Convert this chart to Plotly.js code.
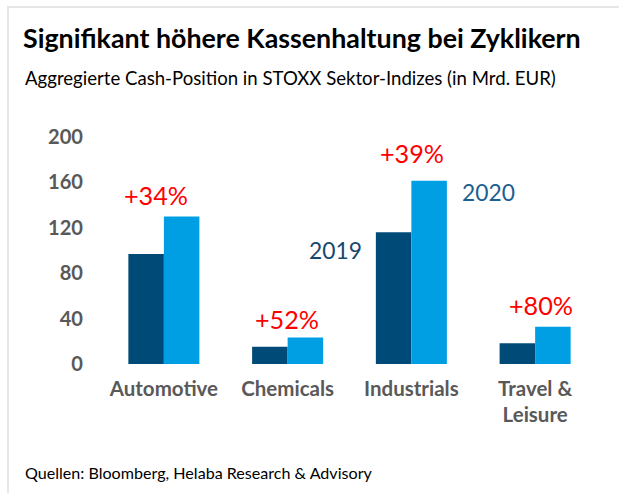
<!DOCTYPE html>
<html>
<head>
<meta charset="utf-8">
<script src="https://cdn.plot.ly/plotly-3.0.1.min.js"></script>
<style>
  html, body { margin: 0; padding: 0; background: #fff; }
  #wrap { position: relative; width: 619px; height: 493px; }
  #chart { width: 619px; height: 493px; }
  .bt { position: absolute; left: 7px; top: 6px; width: 612px; height: 2px; background: #e6e6e6; }
  .bl { position: absolute; left: 7px; top: 6px; width: 2px; height: 487px; background: #e6e6e6; }
</style>
</head>
<body>
<div id="wrap">
  <div id="chart"></div>
  <div class="bt"></div>
  <div class="bl"></div>
</div>
<script>
// ---- data ----
const categories = ["Automotive", "Chemicals", "Industrials", "Travel &<br>Leisure"];
const values2019 = [97, 15.3, 116, 18.2];
const values2020 = [130, 23.4, 161.5, 32.8];
const changeLabels = ["+34%", "+52%", "+39%", "+80%"];
const seriesNames = ["2019", "2020"];
const yTicks = [0, 40, 80, 120, 160, 200];
const titleText = "Signifikant höhere Kassenhaltung bei Zyklikern";
const subtitleText = "Aggregierte Cash-Position in STOXX Sektor-Indizes (in Mrd. EUR)";
const sourceText = "Quellen: Bloomberg, Helaba Research & Advisory";

// ---- styling ----
const FAMILY = 'Lato';
const FONT = 'Lato, "Open Sans", sans-serif';
const C2019 = '#004a78';
const C2020 = '#009fe3';
const GREY = '#595959';

// font size that makes a text take a given pixel width
const cv = document.createElement('canvas').getContext('2d');
function fit(text, bold, width) {
  cv.font = (bold ? 'bold ' : '') + '100px ' + FAMILY;
  const w = cv.measureText(text).width;
  return Math.round(100 * width / w * 10) / 10;
}
const sTitle = fit(titleText, true, 558);
const sSub = fit(subtitleText, false, 530);
const sSrc = fit(sourceText, false, 348);
const sCat = fit("Automotive", true, 108);
const sY = fit("200", true, 35);
const sPct = fit("+34%", false, 64);
const sSer = fit("2019", false, 53);

// offsets for the change labels (pixels)
const pctShiftX = [-8, -1, 1, 6];
const pctShiftY = [21, 18, 28, 22];

const traces = [
  { type: 'bar', x: categories, y: values2019, name: seriesNames[0],
    marker: { color: C2019 }, hoverinfo: 'skip' },
  { type: 'bar', x: categories, y: values2020, name: seriesNames[1],
    marker: { color: C2020 }, hoverinfo: 'skip' }
];

const annotations = [];
categories.forEach((c, i) => {
  annotations.push({
    x: c, y: values2020[i], xref: 'x', yref: 'y',
    text: changeLabels[i], showarrow: false,
    xanchor: 'center', yanchor: 'middle',
    xshift: pctShiftX[i], yshift: pctShiftY[i],
    font: { family: FONT, size: sPct, color: '#ff0000' }
  });
});
annotations.push({
  x: categories[2], y: values2019[2], xref: 'x', yref: 'y',
  text: seriesNames[0], showarrow: false,
  xanchor: 'right', yanchor: 'middle', xshift: -47, yshift: -18,
  font: { family: FONT, size: sSer, color: '#17476b' }
});
annotations.push({
  x: categories[2], y: values2020[2], xref: 'x', yref: 'y',
  text: seriesNames[1], showarrow: false,
  xanchor: 'left', yanchor: 'middle', xshift: 49, yshift: -11,
  font: { family: FONT, size: sSer, color: '#1a6090' }
});
annotations.push({
  xref: 'paper', yref: 'paper', x: (23 - 102) / 495, y: 1 + (137 - 78) / 227,
  xanchor: 'left', yanchor: 'middle', showarrow: false,
  text: subtitleText,
  font: { family: FONT, size: sSub, color: '#000' }
});
annotations.push({
  xref: 'paper', yref: 'paper', x: (23 - 102) / 495, y: -(472 - 364) / 227,
  xanchor: 'left', yanchor: 'middle', showarrow: false,
  text: sourceText.replace('&', '&amp;'),
  font: { family: FONT, size: sSrc, color: '#000' }
});

const layout = {
  width: 619, height: 493,
  margin: { l: 102, r: 22, t: 137, b: 129 },
  paper_bgcolor: '#fff', plot_bgcolor: '#fff',
  showlegend: false,
  barmode: 'group', bargap: 0.426, bargroupgap: 0,
  title: {
    text: '<b>' + titleText + '</b>',
    x: 23 / 619, xanchor: 'left', xref: 'container',
    y: 1 - 39 / 493, yanchor: 'middle', yref: 'container',
    font: { family: FONT, size: sTitle, color: '#000' }
  },
  xaxis: {
    type: 'category', showgrid: false, zeroline: false, showline: false,
    ticks: '', ticklabelstandoff: 10,
    tickfont: { family: FONT, size: sCat, color: GREY, weight: 'bold' }
  },
  yaxis: {
    range: [0, 200], tickvals: yTicks, ticktext: yTicks.map(String),
    showgrid: false, zeroline: false, showline: false, ticks: '',
    ticklabelstandoff: 18,
    tickfont: { family: FONT, size: sY, color: GREY, weight: 'bold' }
  },
  annotations: annotations
};

Plotly.newPlot('chart', traces, layout, { displayModeBar: false, staticPlot: true });
</script>
</body>
</html>
